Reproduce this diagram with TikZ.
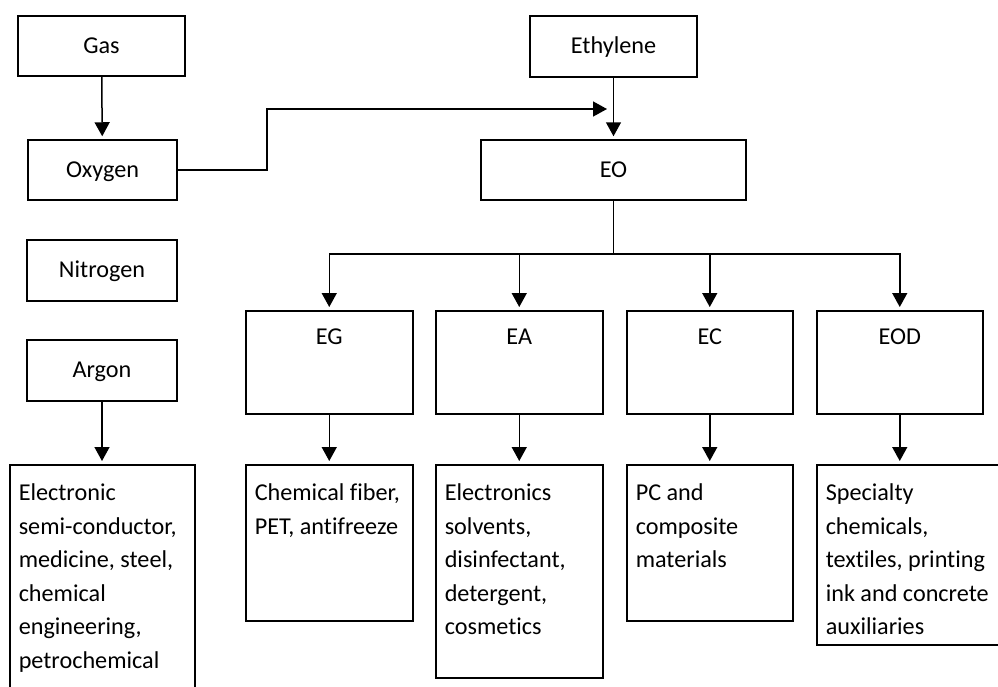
\documentclass[tikz,border=0pt]{standalone}
\usepackage{fontspec}
\setmainfont{Carlito}[Ligatures={NoCommon,NoContextual}]
\usetikzlibrary{arrows.meta}

\newcommand{\usetext}[3]{\begin{minipage}[t][#2][t]{#1}\vspace{0pt}\leftskip=9pt\rightskip=0pt plus 1fil\rule{0pt}{36pt}#3\end{minipage}}
\newcommand{\headtext}[3]{\begin{minipage}[t][#2][t]{#1}\vspace{0pt}\centering\rule{0pt}{34pt}#3\end{minipage}}

\begin{document}
\begin{tikzpicture}[x=1pt,y=-1pt,line width=1.5pt,
    every node/.style={draw,rectangle,inner sep=0pt,font=\fontsize{24.2}{33.5}\selectfont},
    arr/.style={-{Triangle[width=15pt,length=14pt]},shorten >=3pt}]

        \useasboundingbox (0,0) rectangle (998,686);
        \clip (0,0) rectangle (998,686);

        \begin{scope}[every node/.append style={text height=16pt,text depth=2pt}]
          \node[minimum width=167pt,minimum height=60pt] (gas) at (101.5,46)  {Gas};
          \node[minimum width=149pt,minimum height=60pt] (oxy) at (102.5,170) {Oxygen};
          \node[minimum width=150pt,minimum height=61pt] (nit) at (102,270.5) {Nitrogen};
          \node[minimum width=150pt,minimum height=61pt] (arg) at (102,370.5) {Argon};
          \node[minimum width=167pt,minimum height=61pt] (eth) at (613.5,46.5) {Ethylene};
          \node[minimum width=265pt,minimum height=60pt] (eo)  at (613.5,170) {EO};
        \end{scope}

        \begin{scope}[every node/.append style={anchor=north west}]
          \node (eg)  at (245,310) {\headtext{167pt}{103pt}{EG}};
          \node (ea)  at (435,310) {\headtext{167pt}{103pt}{EA}};
          \node (ec)  at (626,310) {\headtext{166pt}{103pt}{EC}};
          \node (eod) at (816,310) {\headtext{166pt}{103pt}{EOD}};

          \node (argsub) at (9,464)   {\usetext{185pt}{240pt}{Electronic\\semi-conductor,\\medicine, steel,\\chemical\\engineering,\\petrochemical}};
          \node (egsub)  at (245,464) {\usetext{167pt}{156pt}{Chemical fiber,\\PET, antifreeze}};
          \node (easub)  at (435,464) {\usetext{167pt}{213pt}{Electronics\\solvents,\\disinfectant,\\detergent,\\cosmetics}};
          \node (ecsub)  at (626,464) {\usetext{166pt}{156pt}{PC and\\composite\\materials}};
          \node (eodsub) at (816,464) {\usetext{187pt}{180pt}{Specialty\\chemicals,\\textiles, printing\\ink and concrete\\auxiliaries}};
        \end{scope}

        \coordinate (bend)  at (267,109);
        \coordinate (join)  at (610,109);
        \coordinate (split) at (613.5,254);

        \draw[arr] (gas) -- (oxy);
        \draw[arr] (oxy.east) -| (bend) -- (join);
        \draw[arr] (eth) -- (eo);
        \draw (eo) -- (split);
        \draw[arr] (split) -| (eg);
        \draw[arr] (split) -| (ea);
        \draw[arr] (split) -| (ec);
        \draw[arr] (split) -| (eod);

        \draw[arr] (arg) -- (arg |- argsub.north);
        \draw[arr] (eg)  -- (egsub);
        \draw[arr] (ea)  -- (easub);
        \draw[arr] (ec)  -- (ecsub);
        \draw[arr] (eod) -- (eod |- eodsub.north);

      \end{tikzpicture}
\end{document}
